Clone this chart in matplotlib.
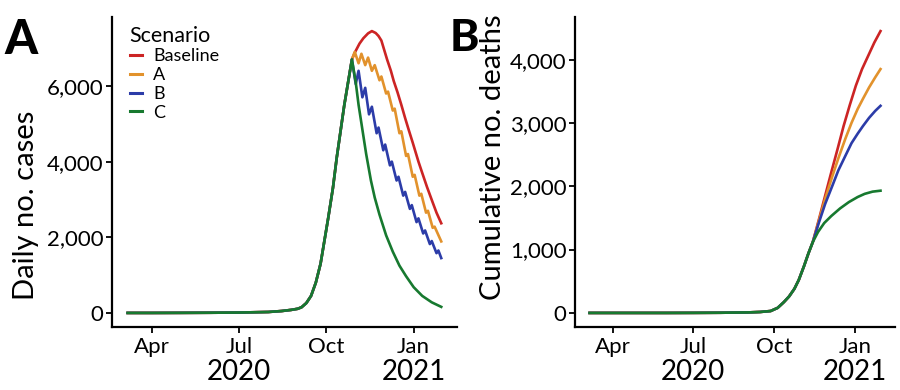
import numpy as np
import pandas as pd
import matplotlib
matplotlib.use("Agg")
import matplotlib.pyplot as plt
import matplotlib.dates as mdates
import matplotlib.ticker as mticker
import matplotlib.transforms as mtrans

plt.rcParams['font.family'] = ['Lato', 'DejaVu Sans']

scenarios = ["Baseline", "A", "B", "C"]
colors = ["#cc2424", "#e2922c", "#2c3ca8", "#17792f"]

# ---- panel A: daily cases (same for all scenarios up to the end of October)
dates_a_common = ["2020-03-06", "2020-04-01", "2020-05-01", "2020-06-01", "2020-07-01",
                  "2020-08-01", "2020-08-15", "2020-08-25", "2020-09-01", "2020-09-05",
                  "2020-09-10", "2020-09-15", "2020-09-20", "2020-09-25", "2020-09-29",
                  "2020-10-03", "2020-10-08", "2020-10-12", "2020-10-16", "2020-10-20",
                  "2020-10-24", "2020-10-28"]
cases_common = [0, 0, 2, 5, 10, 25, 50, 80, 110, 150, 260, 450, 800, 1300, 1900,
                2500, 3300, 4100, 4800, 5500, 6100, 6700]

dates_a_base = ["2020-10-31", "2020-11-05", "2020-11-09", "2020-11-14", "2020-11-18",
                "2020-11-22", "2020-11-25", "2020-11-28", "2020-12-01", "2020-12-04",
                "2020-12-08", "2020-12-11", "2020-12-15", "2020-12-19", "2020-12-23",
                "2020-12-27", "2020-12-31", "2021-01-03", "2021-01-06", "2021-01-10",
                "2021-01-15", "2021-01-21", "2021-01-25", "2021-01-30"]
cases_base = [6880, 7120, 7260, 7390, 7450, 7400, 7320, 7200, 6950, 6700,
              6400, 6130, 5830, 5500, 5150, 4820, 4500, 4250, 4000, 3700,
              3330, 2920, 2650, 2370]

dates_a_a = ["2020-10-31", "2020-11-04", "2020-11-07", "2020-11-11", "2020-11-14",
             "2020-11-18", "2020-11-21", "2020-11-26", "2020-11-28", "2020-12-03",
             "2020-12-05", "2020-12-10", "2020-12-12", "2020-12-17", "2020-12-19",
             "2020-12-24", "2020-12-26", "2020-12-31", "2021-01-02", "2021-01-07",
             "2021-01-09", "2021-01-14", "2021-01-16", "2021-01-21", "2021-01-23",
             "2021-01-30"]
cases_a = [6900, 6600, 6850, 6550, 6750, 6400, 6550, 6150, 6250, 5800,
           5850, 5350, 5400, 4750, 4800, 4150, 4200, 3600, 3650, 3100,
           3150, 2650, 2700, 2250, 2280, 1890]

dates_a_b = ["2020-11-01", "2020-11-04", "2020-11-08", "2020-11-11", "2020-11-15",
             "2020-11-18", "2020-11-23", "2020-11-25", "2020-11-30", "2020-12-02",
             "2020-12-07", "2020-12-09", "2020-12-14", "2020-12-16", "2020-12-21",
             "2020-12-23", "2020-12-28", "2020-12-30", "2021-01-04", "2021-01-06",
             "2021-01-11", "2021-01-13", "2021-01-18", "2021-01-20", "2021-01-25",
             "2021-01-27", "2021-01-30"]
cases_b = [6050, 6400, 5700, 5950, 5250, 5450, 4750, 4900, 4300, 4450,
           3900, 4000, 3500, 3600, 3100, 3200, 2750, 2850, 2400, 2500,
           2100, 2180, 1820, 1900, 1580, 1650, 1450]

dates_a_c = ["2020-11-01", "2020-11-04", "2020-11-08", "2020-11-12", "2020-11-17",
             "2020-11-21", "2020-11-26", "2020-12-03", "2020-12-10", "2020-12-17",
             "2020-12-24", "2021-01-01", "2021-01-10", "2021-01-20", "2021-01-30"]
cases_c = [6100, 5500, 4850, 4200, 3500, 3050, 2600, 2050, 1620, 1250,
           970, 680, 450, 280, 160]

# ---- panel B: cumulative deaths (same for all scenarios up to mid November)
dates_b_common = ["2020-03-05", "2020-04-01", "2020-05-01", "2020-06-01", "2020-07-01",
                  "2020-08-01", "2020-09-01", "2020-09-15", "2020-09-27", "2020-10-05",
                  "2020-10-12", "2020-10-18", "2020-10-24", "2020-10-29", "2020-11-04",
                  "2020-11-09", "2020-11-14"]
deaths_common = [0, 0, 0, 0, 1, 3, 8, 15, 30, 80, 170, 260, 380, 520, 740, 940, 1120]

dates_b_base = ["2020-11-21", "2020-11-28", "2020-12-05", "2020-12-12", "2020-12-19",
                "2020-12-26", "2021-01-02", "2021-01-09", "2021-01-16", "2021-01-23",
                "2021-01-30"]
deaths_base = [1480, 1850, 2220, 2580, 2950, 3280, 3590, 3850, 4060, 4270, 4450]

dates_b_a = ["2020-11-21", "2020-11-28", "2020-12-06", "2020-12-13", "2020-12-21",
             "2020-12-28", "2021-01-04", "2021-01-10", "2021-01-17", "2021-01-24",
             "2021-01-30"]
deaths_a = [1460, 1800, 2150, 2440, 2750, 3000, 3220, 3380, 3560, 3720, 3850]

dates_b_b = ["2020-11-21", "2020-11-28", "2020-12-06", "2020-12-13", "2020-12-21",
             "2020-12-28", "2021-01-04", "2021-01-10", "2021-01-17", "2021-01-24",
             "2021-01-30"]
deaths_b = [1430, 1720, 2000, 2250, 2480, 2680, 2830, 2950, 3080, 3190, 3270]

dates_b_c = ["2020-11-20", "2020-11-27", "2020-12-05", "2020-12-15", "2020-12-25",
             "2021-01-04", "2021-01-12", "2021-01-21", "2021-01-30"]
deaths_c = [1280, 1420, 1530, 1650, 1750, 1830, 1880, 1915, 1930]

month_ticks = ["2020-04-01", "2020-07-01", "2020-10-01", "2021-01-01"]
month_labels = ["Apr", "Jul", "Oct", "Jan"]
year_pos = ["2020-07-01", "2021-01-01"]
year_labels = ["2020", "2021"]

post_a = [(dates_a_base, cases_base), (dates_a_a, cases_a), (dates_a_b, cases_b), (dates_a_c, cases_c)]
post_b = [(dates_b_base, deaths_base), (dates_b_a, deaths_a), (dates_b_b, deaths_b), (dates_b_c, deaths_c)]

fig = plt.figure(figsize=(9, 3.9), dpi=100)
axA = fig.add_axes([0.1244, 0.1615, 0.3833, 0.7949])
axB = fig.add_axes([0.6389, 0.1615, 0.3556, 0.7949])


def draw(ax, common_d, common_v, post):
    for name, col, (d, v) in zip(scenarios, colors, post):
        x = pd.to_datetime(common_d + d)
        y = common_v + v
        ax.plot(x, y, color=col, lw=1.9, label=name, solid_joinstyle='round')
    ax.spines['top'].set_visible(False)
    ax.spines['right'].set_visible(False)
    for s in ['left', 'bottom']:
        ax.spines[s].set_linewidth(1.6)
    ax.set_xticks(pd.to_datetime(month_ticks))
    ax.set_xticklabels(month_labels)
    ax.yaxis.set_major_formatter(mticker.FuncFormatter(lambda v, p: f"{int(v):,}"))
    ax.tick_params(axis='both', labelsize=16, length=4, width=1.3, pad=2)
    ax.tick_params(axis='x', pad=3)
    trans = mtrans.blended_transform_factory(ax.transData, ax.transAxes)
    for p, lab in zip(year_pos, year_labels):
        ax.text(mdates.date2num(pd.Timestamp(p)), -0.145, lab, transform=trans,
                ha='center', va='center', fontsize=20)


draw(axA, dates_a_common, cases_common, post_a)
axA.set_yticks([0, 2000, 4000, 6000])
draw(axB, dates_b_common, deaths_common, post_b)
axB.set_yticks([0, 1000, 2000, 3000, 4000])

# green drawn on top in both panels
for ax in (axA, axB):
    ax.lines[-1].set_zorder(3)

# y labels: both start at the same height, as in the original figure
fig.text(26 / 900, 1 - 300 / 390, "Daily no. cases", rotation=90, fontsize=21,
         ha='center', va='bottom')
fig.text(493 / 900, 1 - 300 / 390, "Cumulative no. deaths", rotation=90, fontsize=21,
         ha='center', va='bottom')

leg = axA.legend(loc='upper left', bbox_to_anchor=(0.03, 0.995), frameon=False,
                 title="Scenario", fontsize=13, title_fontsize=15.5,
                 handlelength=0.7, handletextpad=0.6, labelspacing=0.15,
                 borderaxespad=0.0, alignment='left')
for h in leg.get_lines():
    h.set_linewidth(2.2)

fig.text(0.005, 0.955, "A", fontsize=34, fontweight='black', va='top', ha='left')
fig.text(450 / 900, 0.955, "B", fontsize=32, fontweight='black', va='top', ha='left')

fig.savefig("out.png", dpi=100)
